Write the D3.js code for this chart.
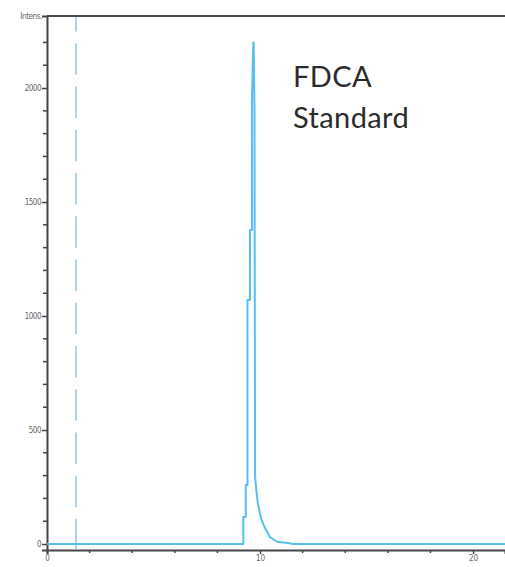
<!DOCTYPE html>
<html><head><meta charset="utf-8">
<script src="https://cdn.jsdelivr.net/npm/d3@7"></script>
<style>html,body{margin:0;padding:0;background:#fff;}</style>
</head><body><svg id="c" width="505" height="567"></svg>
<script>
// Chromatogram trace: [time (min), intensity]
const traceTime = [0, 9.2, 9.215, 9.215, 9.33, 9.33, 9.41, 9.41, 9.53, 9.53, 9.62, 9.62, 9.685, 9.7, 9.74, 9.755, 9.77, 9.8, 9.88, 10.0, 10.1, 10.23, 10.47, 10.8, 11.2, 11.5, 11.6, 21.5];
const traceIntensity = [0, 0, 0, 118, 118, 259, 259, 1070, 1070, 1377, 1377, 1947, 2200, 2200, 1900, 1000, 294, 260, 190, 130, 100, 70, 30, 10, 6, 1, 0, 0];
const markerTime = [1.36];
const yMajorTicks = [0, 500, 1000, 1500, 2000];
const yMinorTicks = [100,200,300,400,600,700,800,900,1100,1200,1300,1400,1600,1700,1800,1900,2100,2200];
const xMajorTicks = [0, 10, 20];
const xMinorTicks = [2,4,6,8,12,14,16,18];
const yTitle = "Intens.";
const annotation = ["FDCA", "Standard"];

const svg = d3.select("#c");
const x = d3.scaleLinear().domain([0, 21.5]).range([47, 505]);
const y = d3.scaleLinear().domain([-26.3, 2316]).range([550, 16]);

const tickCol = "#444", labCol = "#666";

// frame
svg.append("line").attr("x1", 47).attr("x2", 505).attr("y1", 16).attr("y2", 16)
  .attr("stroke", "#111").attr("stroke-width", 1.5);

// y axis
const yAx = svg.append("g").attr("transform", "translate(47,0)")
  .call(d3.axisLeft(y).tickValues(yMajorTicks).tickSize(5).tickFormat(d3.format("d")));
yAx.select(".domain").attr("stroke", tickCol).attr("stroke-width", 2);
yAx.selectAll(".tick line").attr("stroke", tickCol).attr("stroke-width", 1.5);
yAx.selectAll(".tick text").attr("fill", labCol).attr("font-family", "Liberation Sans Narrow, DejaVu Sans Condensed, sans-serif")
  .attr("font-size", 8).attr("x", -6).attr("letter-spacing", -0.5);
svg.append("g").selectAll("line").data(yMinorTicks).join("line")
  .attr("x1", 43).attr("x2", 47).attr("y1", d => y(d)).attr("y2", d => y(d))
  .attr("stroke", tickCol).attr("stroke-width", 1.5);
svg.append("text").attr("x", 42).attr("y", 19).attr("text-anchor", "end")
  .attr("font-family", "Liberation Sans Narrow, DejaVu Sans Condensed, sans-serif")
  .attr("font-size", 8).attr("letter-spacing", -0.4).attr("fill", labCol).text(yTitle);

// x axis
const xAx = svg.append("g").attr("transform", "translate(0,550)")
  .call(d3.axisBottom(x).tickValues(xMajorTicks).tickSize(4).tickFormat(d3.format("d")));
xAx.select(".domain").attr("stroke", tickCol).attr("stroke-width", 2);
xAx.selectAll(".tick line").attr("stroke", tickCol).attr("stroke-width", 1.5);
xAx.selectAll(".tick text").attr("fill", labCol).attr("font-family", "Liberation Sans Narrow, DejaVu Sans Condensed, sans-serif")
  .attr("font-size", 8).attr("y", 5);
svg.append("g").selectAll("line").data(xMinorTicks).join("line")
  .attr("x1", d => x(d)).attr("x2", d => x(d)).attr("y1", 550).attr("y2", 553)
  .attr("stroke", tickCol).attr("stroke-width", 1.5);

// dashed marker
svg.append("g").selectAll("line").data(markerTime).join("line")
  .attr("x1", d => x(d)).attr("x2", d => x(d)).attr("y1", 17).attr("y2", 549)
  .attr("stroke", "#acd3f0").attr("stroke-width", 2)
  .attr("stroke-dasharray", "31.5,11.75").attr("stroke-dashoffset", 17);

// trace
const pts = traceTime.map((t, i) => [t, traceIntensity[i]]);
svg.append("path").datum(pts)
  .attr("d", d3.line().x(d => x(d[0])).y(d => y(d[1])))
  .attr("fill", "none").attr("stroke", "#55bff2").attr("stroke-width", 2)
  .attr("stroke-linejoin", "round");

// annotation
const ann = svg.append("text").attr("font-family", "Lato, Open Sans, sans-serif")
  .attr("font-size", 29).attr("letter-spacing", 0.4).attr("fill", "#2b2b2b");
annotation.forEach((s, i) => ann.append("tspan").attr("x", 293).attr("y", 87 + i * 41).text(s));
</script></body></html>
